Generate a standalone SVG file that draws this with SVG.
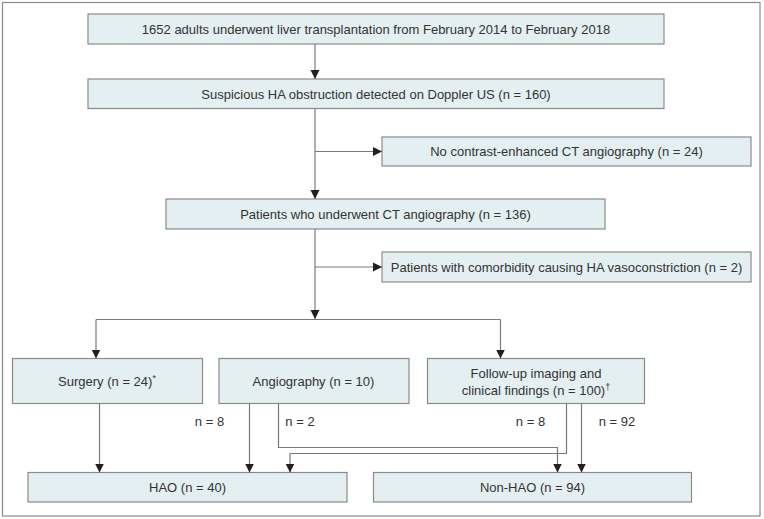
<svg xmlns="http://www.w3.org/2000/svg" width="764" height="519" viewBox="0 0 764 519">
<style>
.box{fill:#e3eff1;stroke:#8a8a8a;stroke-width:1.2}
.t{font-family:"Liberation Sans",Arial,sans-serif;font-size:13px;fill:#333;text-anchor:middle}
.l{fill:none;stroke:#7a7a7a;stroke-width:1.2}
.s{font-size:9px}
</style>
<defs>
<marker id="a" markerUnits="userSpaceOnUse" markerWidth="9" markerHeight="10" viewBox="0 0 9 10" refX="9" refY="5" orient="auto">
<path d="M0,0.5 L9,5 L0,9.5 Z" fill="#231f20"/>
</marker>
</defs>
<rect x="2.5" y="2.5" width="757.5" height="513.5" fill="#fff" stroke="#8a8a8a" stroke-width="1.2"/>
<g id="n1"><rect class="box" x="88" y="14" width="576" height="30"/><text class="t" x="376" y="33.5">1652 adults underwent liver transplantation from February 2014 to February 2018</text></g>
<g id="n2"><rect class="box" x="88" y="79" width="576" height="29.5"/><text class="t" x="376" y="98.5">Suspicious HA obstruction detected on Doppler US (n = 160)</text></g>
<g id="n3"><rect class="box" x="382" y="137" width="369" height="29"/><text class="t" x="566.5" y="156">No contrast-enhanced CT angiography (n = 24)</text></g>
<g id="n4"><rect class="box" x="166" y="199" width="439" height="30"/><text class="t" x="385.5" y="218.5">Patients who underwent CT angiography (n = 136)</text></g>
<g id="n5"><rect class="box" x="382" y="252" width="369" height="30"/><text class="t" x="566.5" y="271.5">Patients with comorbidity causing HA vasoconstriction (n = 2)</text></g>
<g id="n6"><rect class="box" x="12.5" y="358.5" width="190" height="45"/><text class="t" x="107" y="385.5">Surgery (n = 24)<tspan class="s" dy="-5">*</tspan></text></g>
<g id="n7"><rect class="box" x="219" y="358.5" width="190" height="45"/><text class="t" x="313.5" y="385.5">Angiography (n = 10)</text></g>
<g id="n8"><rect class="box" x="427.5" y="358.5" width="217" height="45"/><text class="t" x="536" y="377.5">Follow-up imaging and</text><text class="t" x="536" y="394.5">clinical findings (n = 100)<tspan class="s" dy="-5">†</tspan></text></g>
<g id="n9"><rect class="box" x="28" y="472.5" width="319" height="29.5"/><text class="t" x="187.5" y="491.5">HAO (n = 40)</text></g>
<g id="n10"><rect class="box" x="373.5" y="472.5" width="318" height="29.5"/><text class="t" x="532.5" y="491.5">Non-HAO (n = 94)</text></g>
<g id="connectors">
<path class="l" d="M315,44 V79" marker-end="url(#a)"/>
<path class="l" d="M315,108.5 V199" marker-end="url(#a)"/>
<path class="l" d="M315,151.5 H382" marker-end="url(#a)"/>
<path class="l" d="M315,229 V319" marker-end="url(#a)"/>
<path class="l" d="M315,267 H382" marker-end="url(#a)"/>
<path class="l" d="M96,319.5 H500.5"/>
<path class="l" d="M96,319.5 V358.5" marker-end="url(#a)"/>
<path class="l" d="M500.5,319.5 V358.5" marker-end="url(#a)"/>
<path class="l" d="M99.5,403.5 V472.5" marker-end="url(#a)"/>
<path class="l" d="M249.5,403.5 V472.5" marker-end="url(#a)"/>
<path class="l" d="M278.5,403.5 V447.5 H557.5 V472.5" marker-end="url(#a)"/>
<path class="l" d="M566.5,403.5 V453.5 H290 V472.5" marker-end="url(#a)"/>
<path class="l" d="M581.5,403.5 V472.5" marker-end="url(#a)"/>
</g>
<g id="labels">
<text class="t" x="209.5" y="426">n = 8</text>
<text class="t" x="300" y="426">n = 2</text>
<text class="t" x="530.5" y="426">n = 8</text>
<text class="t" x="617" y="426">n = 92</text>
</g>
</svg>
